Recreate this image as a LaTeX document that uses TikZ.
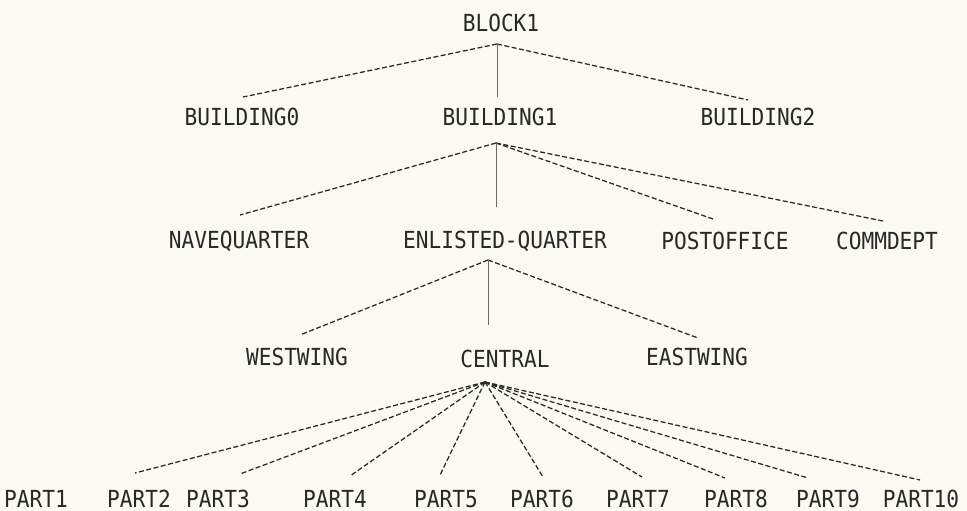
\documentclass[tikz,border=0pt]{standalone}
\usepackage{fontspec}
\newfontfamily\plotfont[FakeStretch=0.9]{DejaVu Sans Mono}
\definecolor{paper}{RGB}{250,250,242}
\definecolor{ink}{RGB}{40,40,40}
\definecolor{thinink}{RGB}{105,105,105}
\tikzset{
  lbl/.style={anchor=base, inner sep=0pt, text=ink, font=\plotfont\fontsize{23.5}{23.5}\selectfont},
  link/.style={draw=ink, line width=1.25pt, dash pattern=on 5pt off 2.5pt},
  stem/.style={draw=thinink, line width=0.7pt}
}
\begin{document}
\begin{tikzpicture}[x=1pt,y=-1pt]
\fill[paper] (0,0) rectangle (967,511);
\useasboundingbox (0,0) rectangle (967,511);
% labels
\node[lbl] (blk) at (501,32) {BLOCK1};
\node[lbl] (b0) at (242,125) {BUILDING0};
\node[lbl] (b1) at (500,125) {BUILDING1};
\node[lbl] (b2) at (758,125) {BUILDING2};
\node[lbl] (nq) at (239,248) {NAVEQUARTER};
\node[lbl] (eq) at (505,248) {ENLISTED-QUARTER};
\node[lbl] (po) at (725,249) {POSTOFFICE};
\node[lbl] (cd) at (887,249) {COMMDEPT};
\node[lbl] (ww) at (297,365) {WESTWING};
\node[lbl] (ce) at (505,367) {CENTRAL};
\node[lbl] (ew) at (697,365) {EASTWING};
\node[lbl] (p1) at (36,507) {PART1};
\node[lbl] (p2) at (139,507) {PART2};
\node[lbl] (p3) at (218,507) {PART3};
\node[lbl] (p4) at (335,507) {PART4};
\node[lbl] (p5) at (446,507) {PART5};
\node[lbl] (p6) at (542,507) {PART6};
\node[lbl] (p7) at (638,507) {PART7};
\node[lbl] (p8) at (736,507) {PART8};
\node[lbl] (p9) at (828,507) {PART9};
\node[lbl] (p10) at (921,507) {PART10};
% connector points
\coordinate (a1) at (497,44);
\coordinate (b0t) at (243,97);
\coordinate (b1t) at (497,97);
\coordinate (b2t) at (748,100);
\coordinate (a2) at (496,143);
\coordinate (nqt) at (240,215);
\coordinate (eqt) at (496,207);
\coordinate (pot) at (713,219);
\coordinate (cdt) at (883,221);
\coordinate (a3) at (488,260);
\coordinate (wwt) at (300,335);
\coordinate (cet) at (488,325);
\coordinate (ewt) at (698,338);
\coordinate (a4) at (485,382);
\coordinate (e1) at (135,473);
\coordinate (e2) at (240,474);
\coordinate (e3) at (350,476);
\coordinate (e4) at (440,475);
\coordinate (e5) at (543,477);
\coordinate (e6) at (642,477);
\coordinate (e7) at (725,478);
\coordinate (e8) at (808,478);
\coordinate (e9) at (920,480);
% connectors
\draw[link] (a1) -- (b0t);
\draw[link] (a1) -- (b2t);
\draw[stem] (a1) -- (b1t);
\draw[link] (a2) -- (nqt);
\draw[link] (a2) -- (pot);
\draw[link] (a2) -- (cdt);
\draw[stem] (a2) -- (eqt);
\draw[link] (a3) -- (wwt);
\draw[link] (a3) -- (ewt);
\draw[stem] (a3) -- (cet);
\foreach \e in {e1,e2,e3,e4,e5,e6,e7,e8,e9} {
  \draw[link] (a4) -- (\e);
}
\end{tikzpicture}
\end{document}
